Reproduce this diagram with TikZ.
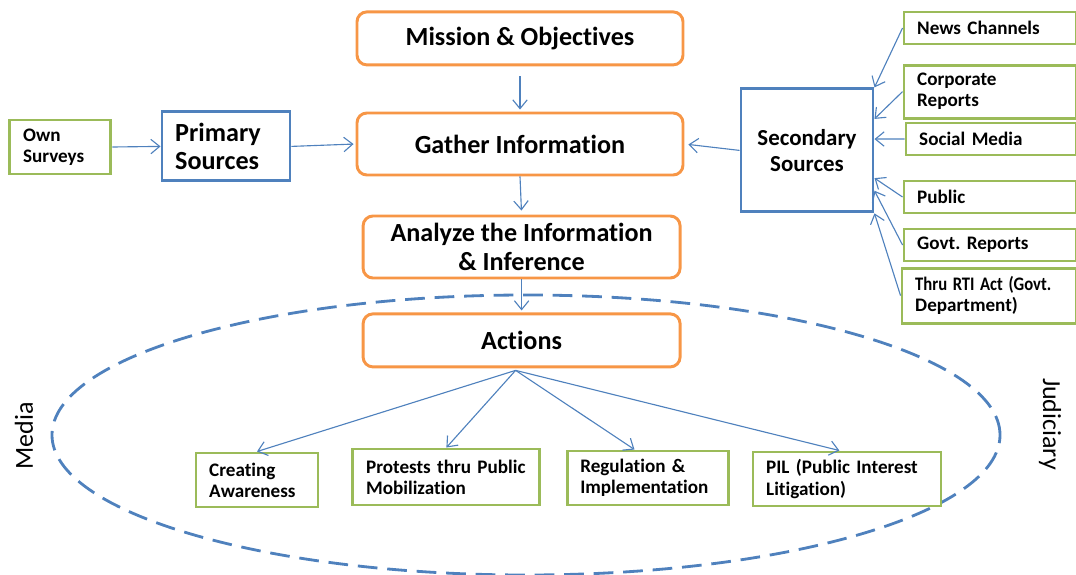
\documentclass[tikz,border=0pt]{standalone}
\usepackage{fontspec}
\setmainfont{Carlito}[Ligatures=NoCommon]
\usetikzlibrary{arrows.meta,calc}
\definecolor{flowor}{HTML}{F79646}
\definecolor{srcblue}{HTML}{4F81BD}
\definecolor{leafgreen}{HTML}{9BBB59}
\frenchspacing

\begin{document}
\begin{tikzpicture}[
    >={Straight Barb[length=2.2mm,width=3.6mm]},
    stagebox/.style={
        draw=flowor,
        fill=white,
        rounded corners=7pt,
        line width=2.1pt,
        align=center,
        font=\bfseries\fontsize{18.6}{20.5}\selectfont
    },
    srcbox/.style={
        draw=srcblue,
        fill=white,
        line width=2.1pt,
        align=center,
        font=\bfseries\fontsize{18.6}{20.5}\selectfont
    },
    leafbox/.style={
        draw=leafgreen,
        fill=white,
        line width=2.1pt,
        inner xsep=0.33cm,
        align=left,
        text width=#1,
        font=\bfseries\fontsize{13.6}{15}\selectfont
    },
    link/.style={->,line width=0.8pt,srcblue}
]
\useasboundingbox (0,0) rectangle (26.9,-14.375);

% Outer dashed region for the actions
\draw[srcblue,line width=2pt,dash pattern=on 14pt off 7pt]
    (13.15,-10.875) ellipse [x radius=11.85cm, y radius=3.5cm];
\node[rotate=90,font=\fontsize{18.5}{20}\selectfont] (media) at (0.6,-10.9) {Media};
\node[rotate=-90,font=\fontsize{18.5}{20}\selectfont] (judiciary) at (26.25,-10.6) {Judiciary};

% Main stages
\node[stagebox,minimum width=8.15cm,minimum height=1.325cm] (mission) at (13.0,-0.96) {Mission \& Objectives};
\node[stagebox,minimum width=8.15cm,minimum height=1.55cm] (gather) at (13.0,-3.6) {Gather Information};
\node[stagebox,minimum width=7.925cm,minimum height=1.55cm] (analyze) at (13.04,-6.175) {Analyze the Information\\\& Inference};
\node[stagebox,minimum width=7.925cm,minimum height=1.325cm] (actions) at (13.04,-8.51) {Actions};

% Sources
\node[srcbox,align=left,inner xsep=0.33cm,text width=2.54cm,minimum height=1.725cm] (primary) at (5.65,-3.66) {Primary\\Sources};
\node[srcbox,font=\bfseries\fontsize{16.3}{18}\selectfont,minimum width=3.3cm,minimum height=3.075cm] (secondary) at (20.175,-3.76) {Secondary\\Sources};
\node[leafbox=1.865cm,minimum height=1.35cm] (own) at (1.51,-3.675) {Own\\Surveys};

% Secondary inputs
\node[leafbox=3.64cm,minimum height=0.8cm] (news) at (24.75,-0.70) {News Channels};
\node[leafbox=3.64cm,minimum height=1.325cm] (corporate) at (24.75,-2.29) {Corporate\\Reports};
\node[leafbox=3.59cm,minimum height=0.8cm] (social) at (24.775,-3.475) {Social Media};
\node[leafbox=3.64cm,minimum height=0.8cm] (public) at (24.75,-4.925) {Public};
\node[leafbox=3.64cm,minimum height=0.8cm] (govt) at (24.75,-6.125) {Govt. Reports};
\node[leafbox=3.69cm,minimum height=1.375cm] (rti) at (24.725,-7.39) {\scalebox{0.87}[1]{Thru RTI Act (Govt.}\\Department)};

% Kinds of action
\node[leafbox=2.39cm,minimum height=1.35cm] (aware) at (6.425,-12.0) {Creating\\Awareness};
\node[leafbox=4.015cm,minimum height=1.4cm] (protests) at (11.16,-11.925) {Protests thru Public\\Mobilization};
\node[leafbox=3.365cm,minimum height=1.35cm] (regulation) at (16.19,-11.95) {Regulation \&\\Implementation};
\node[leafbox=4.04cm,minimum height=1.35cm] (pil) at (21.175,-11.975) {PIL (Public Interest\\Litigation)};

% Main flow
\draw[link,shorten <=0.25cm,shorten >=0.05cm] (mission.south) -- (gather.north);
\draw[link,shorten >=0.1cm] (gather.south) -- (analyze.north);
\draw[link,shorten >=0.05cm] (analyze.south) -- (actions.north);
\draw[link] (own.east) -- (primary.west);
\draw[link,shorten >=0.05cm] (primary.east) -- (gather.west);
\draw[link,shorten >=0.1cm] (secondary.west) -- (gather.east);

% Inputs into secondary sources
\draw[link] (news.west) -- (secondary.north east);
\draw[link] (corporate.west) -- ($(secondary.north east)!0.25!(secondary.south east)$);
\draw[link] (social.west) -- ($(secondary.north east)!0.41!(secondary.south east)$);
\draw[link] (public.west) -- ($(secondary.north east)!0.72!(secondary.south east)$);
\draw[link] (govt.west) -- ($(secondary.north east)!0.82!(secondary.south east)$);
\draw[link] (rti.west) -- (secondary.south east);

% Actions fan out
\coordinate (fan) at ($(actions.south)+(-0.15,-0.05)$);
\draw[link] (fan) -- (aware.north);
\draw[link] (fan) -- (protests.north);
\draw[link] (fan) -- ($(regulation.north west)!0.42!(regulation.north east)$);
\draw[link] (fan) -- ($(pil.north west)!0.46!(pil.north east)$);

\end{tikzpicture}
\end{document}
